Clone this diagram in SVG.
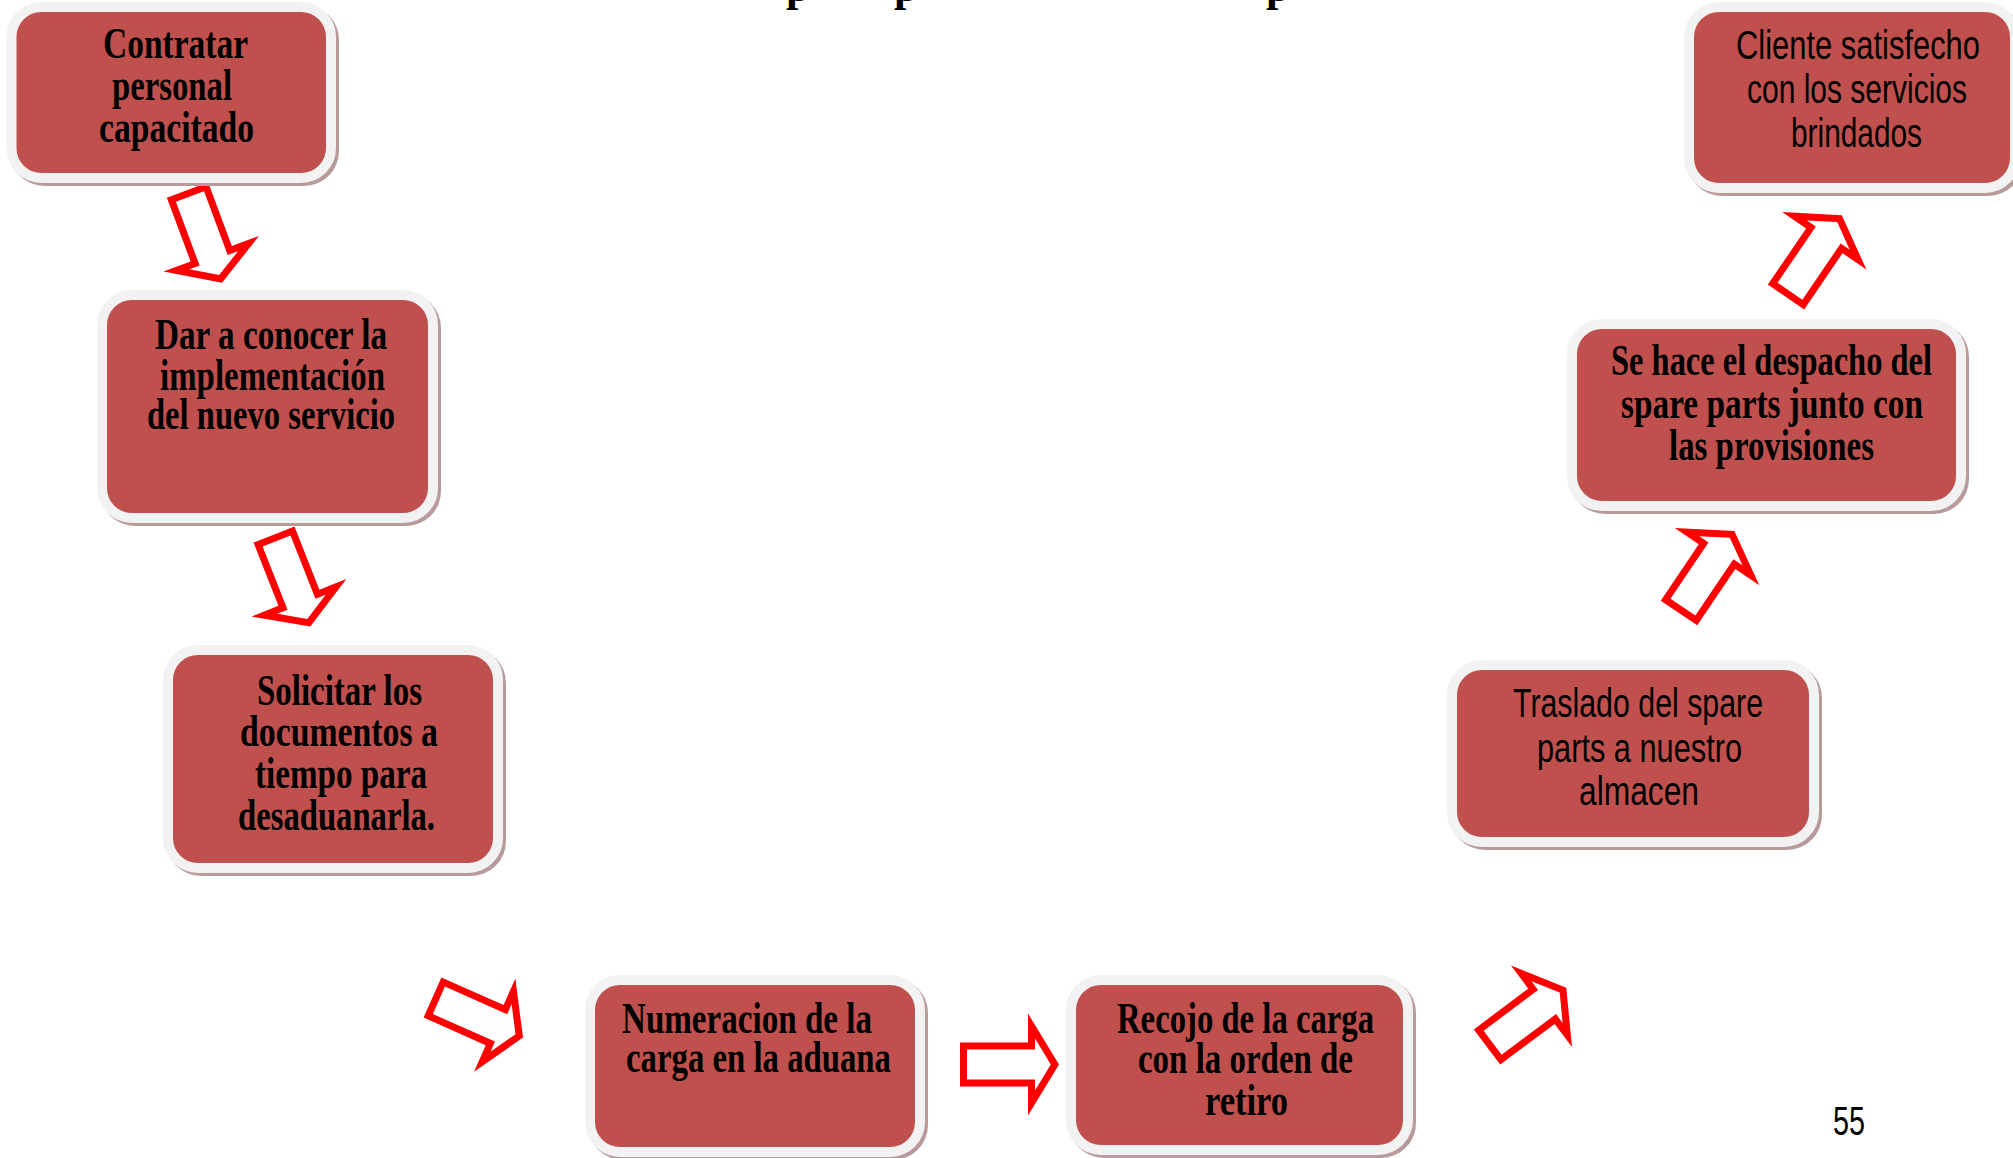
<svg xmlns="http://www.w3.org/2000/svg" xmlns:xlink="http://www.w3.org/1999/xlink" width="2013" height="1158" viewBox="0 0 2013 1158">
<style>
.box{fill:#c0504d;stroke:#f2f2f2;stroke-width:10}
.sh{fill:#b99a9a}
.ts{font-family:"Liberation Serif","Times New Roman",serif;font-weight:bold;font-size:44px;fill:#000}
.tn{font-family:"Liberation Sans",Arial,sans-serif;font-size:40px;fill:#000}
.tt{font-family:"Liberation Serif","Times New Roman",serif;font-weight:bold;font-size:44px;fill:#000}
.arr{fill:#ff0000;fill-rule:evenodd}
</style>
<defs>
<path id="arrow" class="arr" d="M-22,0 L22,0 L22,68 L51,68 L0,99 L-51,68 L-22,68 Z M-15,7 L-15,75 L-26,75 L0,90.8 L26,75 L15,75 L15,7 Z"/>
</defs>
<rect width="2013" height="1158" fill="#ffffff"/>
<g id="title">
<text class="tt" x="786" y="0.5">p</text>
<text class="tt" x="894" y="0.5">p</text>
<text class="tt" x="1266" y="0.5">p</text>
</g>
<g id="connectors">
<use xlink:href="#arrow" transform="translate(187.5,190) rotate(-20.4)"/>
<use xlink:href="#arrow" transform="translate(274,534.5) rotate(-21.5)"/>
<use xlink:href="#arrow" transform="translate(432.5,997.5) rotate(-66.1)"/>
<use xlink:href="#arrow" transform="translate(960,1064.5) rotate(-90)"/>
<use xlink:href="#arrow" transform="translate(1487,1047) rotate(-126.8)"/>
<use xlink:href="#arrow" transform="translate(1679,613) rotate(-146)"/>
<use xlink:href="#arrow" transform="translate(1786,297) rotate(-145.7)"/>
</g>
<g id="n1">
<rect class="sh" x="9.5" y="5" width="329.5" height="181" rx="35"/>
<rect class="box" x="11.5" y="7" width="319.5" height="171" rx="30"/>
<text class="ts" x="103" y="58" textLength="145" lengthAdjust="spacingAndGlyphs">Contratar</text>
<text class="ts" x="112" y="100" textLength="120" lengthAdjust="spacingAndGlyphs">personal</text>
<text class="ts" x="99" y="142" textLength="155" lengthAdjust="spacingAndGlyphs">capacitado</text>
</g>
<g id="n2">
<rect class="sh" x="100" y="293" width="341" height="233" rx="35"/>
<rect class="box" x="102" y="295" width="331" height="223" rx="30"/>
<text class="ts" x="155" y="349" textLength="232" lengthAdjust="spacingAndGlyphs">Dar a conocer la</text>
<text class="ts" x="160" y="390" textLength="225" lengthAdjust="spacingAndGlyphs">implementación</text>
<text class="ts" x="147" y="429" textLength="248" lengthAdjust="spacingAndGlyphs">del nuevo servicio</text>
</g>
<g id="n3">
<rect class="sh" x="166" y="648" width="340" height="228" rx="35"/>
<rect class="box" x="168" y="650" width="330" height="218" rx="30"/>
<text class="ts" x="257" y="705" textLength="165" lengthAdjust="spacingAndGlyphs">Solicitar los</text>
<text class="ts" x="240" y="746" textLength="198" lengthAdjust="spacingAndGlyphs">documentos a</text>
<text class="ts" x="255" y="788" textLength="172" lengthAdjust="spacingAndGlyphs">tiempo para</text>
<text class="ts" x="238" y="830" textLength="197" lengthAdjust="spacingAndGlyphs">desaduanarla.</text>
</g>
<g id="n4">
<rect class="sh" x="588" y="978" width="340" height="182" rx="35"/>
<rect class="box" x="590" y="980" width="330" height="172" rx="30"/>
<text class="ts" x="622" y="1033" textLength="250" lengthAdjust="spacingAndGlyphs">Numeracion de la</text>
<text class="ts" x="626" y="1072" textLength="265" lengthAdjust="spacingAndGlyphs">carga en la aduana</text>
</g>
<g id="n5">
<rect class="sh" x="1069" y="978" width="347" height="180" rx="35"/>
<rect class="box" x="1071" y="980" width="337" height="170" rx="30"/>
<text class="ts" x="1117" y="1033" textLength="257" lengthAdjust="spacingAndGlyphs">Recojo de la carga</text>
<text class="ts" x="1138" y="1073" textLength="215" lengthAdjust="spacingAndGlyphs">con la orden de</text>
<text class="ts" x="1205" y="1115" textLength="83" lengthAdjust="spacingAndGlyphs">retiro</text>
</g>
<g id="n6">
<rect class="sh" x="1450" y="663" width="372" height="187" rx="35"/>
<rect class="box" x="1452" y="665" width="362" height="177" rx="30"/>
<text class="tn" x="1513" y="717" textLength="250" lengthAdjust="spacingAndGlyphs">Traslado del spare</text>
<text class="tn" x="1537" y="762" textLength="205" lengthAdjust="spacingAndGlyphs">parts a nuestro</text>
<text class="tn" x="1579" y="805" textLength="120" lengthAdjust="spacingAndGlyphs">almacen</text>
</g>
<g id="n7">
<rect class="sh" x="1570" y="322" width="399" height="192" rx="35"/>
<rect class="box" x="1572" y="324" width="389" height="182" rx="30"/>
<text class="ts" x="1611" y="375" textLength="321" lengthAdjust="spacingAndGlyphs">Se hace el despacho del</text>
<text class="ts" x="1621" y="418" textLength="302" lengthAdjust="spacingAndGlyphs">spare parts junto con</text>
<text class="ts" x="1669" y="460" textLength="205" lengthAdjust="spacingAndGlyphs">las provisiones</text>
</g>
<g id="n8">
<rect class="sh" x="1687" y="5" width="336" height="191" rx="35"/>
<rect class="box" x="1689" y="7" width="326" height="181" rx="30"/>
<text class="tn" x="1736" y="59" textLength="244" lengthAdjust="spacingAndGlyphs">Cliente satisfecho</text>
<text class="tn" x="1747" y="103" textLength="220" lengthAdjust="spacingAndGlyphs">con los servicios</text>
<text class="tn" x="1791" y="147" textLength="131" lengthAdjust="spacingAndGlyphs">brindados</text>
</g>
<g id="page">
<text class="tn" x="1833" y="1135" font-size="42" textLength="32" lengthAdjust="spacingAndGlyphs">55</text>
</g>
</svg>
